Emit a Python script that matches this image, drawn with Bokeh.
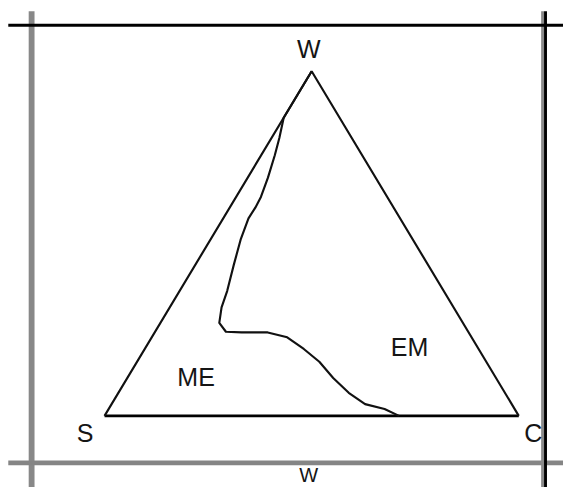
from bokeh.plotting import figure
from bokeh.models import Range1d, ColumnDataSource
from bokeh.core.properties import value
from bokeh.embed import file_html
from bokeh.resources import INLINE

# ---- data: ternary diagram W (top) - S (left) - C (right) ----
vertex_labels = ["W", "S", "C"]
vertex_w = [1.0, 0.0, 0.0]
vertex_c = [0.0, 0.0, 1.0]

# boundary between ME and EM fields, as compositions (fraction W, fraction C)
curve_w = [1.000, 0.865, 0.806, 0.756, 0.691, 0.635, 0.604, 0.573, 0.511, 0.438,
           0.362, 0.315, 0.270, 0.244, 0.242, 0.242, 0.228, 0.194, 0.157, 0.110,
           0.067, 0.034, 0.020, 0.000]
curve_c = [0.000, 0.000, 0.019, 0.033, 0.049, 0.060, 0.062, 0.061, 0.073, 0.093,
           0.115, 0.125, 0.142, 0.171, 0.210, 0.273, 0.327, 0.384, 0.440, 0.497,
           0.556, 0.612, 0.666, 0.711]

region_labels = ["ME", "EM"]
region_w = [0.112, 0.199]
region_c = [0.165, 0.637]

bottom_label = ["W"]


def tern_x(w, c):
    return [ci + wi / 2.0 for wi, ci in zip(w, c)]


def tern_y(w, c):
    return list(w)


# reference-pixel -> data helpers for the decorative frame (scan borders)
def PX(px):
    return (px - 107.0) / 426.0


def PY(py):
    return (429.0 - py) / 356.0


W, H = 563, 487
S = W / 579.0  # screen scale of the reference
p = figure(width=W, height=H, output_backend="svg", toolbar_location=None,
           x_range=Range1d(PX(0), PX(579)), y_range=Range1d(PY(503), PY(0)),
           x_axis_location=None, y_axis_location=None, min_border=0)
p.grid.visible = False
p.outline_line_color = None
p.background_fill_color = "white"
p.border_fill_color = "white"

# frame lines of the scanned page
p.segment(x0=[PX(32)], y0=[PY(11)], x1=[PX(32)], y1=[PY(520)], line_color="#888888", line_width=6 * S)
p.segment(x0=[PX(8)], y0=[PY(477.5)], x1=[PX(600)], y1=[PY(477.5)], line_color="#858585", line_width=5 * S)
p.segment(x0=[PX(557.5)], y0=[PY(11)], x1=[PX(557.5)], y1=[PY(520)], line_color="#8a8a8a", line_width=3 * S)
p.segment(x0=[PX(560.5)], y0=[PY(11)], x1=[PX(560.5)], y1=[PY(520)], line_color="black", line_width=3 * S)
p.segment(x0=[PX(8)], y0=[PY(25.5)], x1=[PX(600)], y1=[PY(25.5)], line_color="black", line_width=3 * S)

# triangle
tx = tern_x(vertex_w, vertex_c)
ty = tern_y(vertex_w, vertex_c)
p.line(x=[tx[1], tx[2]], y=[ty[1], ty[2]], line_color="black", line_width=2.8 * S)
p.line(x=[tx[1], tx[0], tx[2]], y=[ty[1], ty[0], ty[2]], line_color="#111111", line_width=2.2 * S)

# boundary curve
p.line(x=tern_x(curve_w, curve_c), y=tern_y(curve_w, curve_c), line_color="#111111",
       line_width=2.2 * S, line_join="round")

font = value("Liberation Sans")
fs = "25px"
# vertex labels
vsrc = ColumnDataSource(dict(x=tx, y=ty, t=vertex_labels,
                             dx=[-3 * S, -20 * S, 15 * S], dy=[-23 * S, 18 * S, 18 * S]))
p.text(x="x", y="y", text="t", x_offset="dx", y_offset="dy", source=vsrc,
       text_font=font, text_font_size=fs, text_color="#151515",
       text_align="center", text_baseline="middle")

# region labels
p.text(x=tern_x(region_w, region_c), y=tern_y(region_w, region_c), text=region_labels,
       text_font=font, text_font_size=fs, text_color="#151515",
       text_align="center", text_baseline="middle")

# axis title below the frame (near the page edge)
p.text(x=[tx[0]], y=[PY(501)], text=bottom_label, x_offset=-3 * S,
       text_font=font, text_font_size="20px", text_color="#151515",
       text_align="center", text_baseline="bottom")

open("out.html", "w").write(file_html(p, INLINE))
